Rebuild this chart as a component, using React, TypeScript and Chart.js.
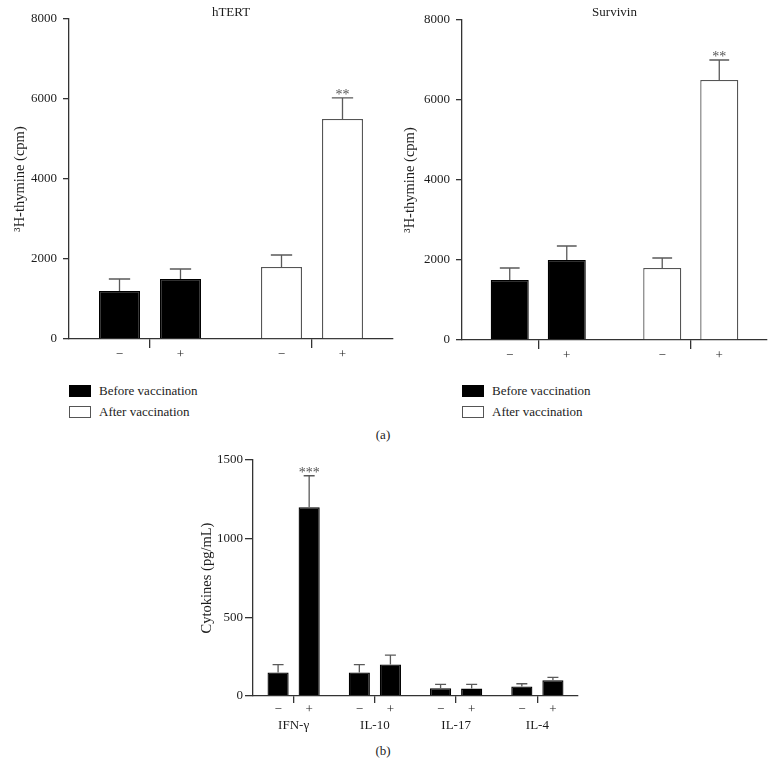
import React, { useEffect, useRef } from 'react';
import { Chart, registerables } from 'chart.js';

Chart.register(...registerables);

const FONT = '"Liberation Serif", "Times New Roman", serif';
const AXIS = '#333333';
const TEXT = '#1c1c1c';

// ---- panel (a) ----
const groupLabels = ['Before vaccination', 'After vaccination'];
const groupFill = ['#000000', '#ffffff'];
const groupBorder = ['#000000', '#555555'];
const stimMinus = '−';
const stimPlus = '+';
const thymineTicks = [0, 2000, 4000, 6000, 8000];

const htertMinus = [1200, 1800];
const htertMinusErr = [300, 300];
const htertPlus = [1500, 5500];
const htertPlusErr = [250, 530];
const htertPlusSig = ['', '**'];

const survMinus = [1500, 1800];
const survMinusErr = [300, 250];
const survPlus = [2000, 6500];
const survPlusErr = [350, 500];
const survPlusSig = ['', '**'];

// ---- panel (b) ----
const cytoLabels = ['IFN-γ', 'IL-10', 'IL-17', 'IL-4'];
const cytoMinus = [150, 150, 50, 60];
const cytoMinusErr = [50, 50, 24, 18];
const cytoPlus = [1200, 200, 47, 100];
const cytoPlusErr = [200, 60, 27, 18];
const cytoPlusSig = ['***', '', '', ''];
const cytoTicks = [0, 500, 1000, 1500];

const barExtras = {
  id: 'barExtras',
  afterDatasetsDraw(chart: any, _args: any, opts: any) {
    const { ctx, chartArea } = chart;
    const yScale = chart.scales.y;
    chart.data.datasets.forEach((ds: any, di: number) => {
      const meta = chart.getDatasetMeta(di);
      meta.data.forEach((bar: any, i: number) => {
        const v = ds.data[i];
        const e = ds.errors ? ds.errors[i] : 0;
        const top = yScale.getPixelForValue(v + e);
        const half = bar.width * 0.26;
        ctx.save();
        ctx.strokeStyle = '#5a5a5a';
        ctx.lineWidth = 1.3;
        ctx.beginPath();
        ctx.moveTo(bar.x, bar.y);
        ctx.lineTo(bar.x, top);
        ctx.moveTo(bar.x - half, top);
        ctx.lineTo(bar.x + half, top);
        ctx.stroke();
        const sig = ds.sig ? ds.sig[i] : '';
        if (sig) {
          ctx.fillStyle = '#555555';
          ctx.font = `14px ${FONT}`;
          ctx.textAlign = 'center';
          ctx.textBaseline = 'alphabetic';
          ctx.fillText(sig, bar.x, top + 1);
        }
        ctx.fillStyle = TEXT;
        ctx.font = `13px ${FONT}`;
        ctx.textAlign = 'center';
        ctx.textBaseline = 'middle';
        ctx.fillText(ds.label, bar.x, chartArea.bottom + opts.stimOffset);
        ctx.restore();
      });
    });
    if (opts.title) {
      ctx.save();
      ctx.fillStyle = TEXT;
      ctx.font = `13px ${FONT}`;
      ctx.textAlign = 'center';
      ctx.textBaseline = 'middle';
      ctx.fillText(opts.title, (chartArea.left + chartArea.right) / 2, opts.titleY);
      ctx.restore();
    }
  },
};

function buildConfig(p: any) {
  const ds = (label: string, data: number[], errors: number[], sig: string[]) => ({
    label,
    data,
    errors,
    sig,
    backgroundColor: p.fill,
    borderColor: p.border,
    borderWidth: 1.3,
    categoryPercentage: p.cat,
    barPercentage: p.bar,
  });
  return {
    type: 'bar',
    data: {
      labels: p.labels,
      datasets: [
        ds(stimMinus, p.minus, p.minusErr, []),
        ds(stimPlus, p.plus, p.plusErr, p.plusSig),
      ],
    },
    options: {
      responsive: false,
      animation: false,
      devicePixelRatio: 1,
      layout: { padding: p.padding },
      plugins: {
        legend: { display: false },
        tooltip: { enabled: false },
        barExtras: { stimOffset: p.stimOffset, title: p.title, titleY: p.titleY },
      },
      scales: {
        x: {
          grid: { offset: false, drawOnChartArea: false, tickLength: p.xTick, color: AXIS, lineWidth: 1.3 },
          border: { color: AXIS, width: 1.3 },
          ticks: { display: p.showX, padding: 15, font: { size: 13, family: FONT }, color: TEXT, maxRotation: 0 },
          afterFit: (s: any) => { s.height = p.xHeight; },
        },
        y: {
          min: 0,
          max: p.yMax,
          grid: { drawOnChartArea: false, tickLength: p.yTick, color: AXIS, lineWidth: 1.3 },
          border: { color: AXIS, width: 1.3 },
          ticks: {
            padding: p.yPad,
            font: { size: 13, family: FONT },
            color: TEXT,
            callback: (v: any) => String(v),
          },
          afterBuildTicks: (s: any) => { s.ticks = p.yTicks.map((v: number) => ({ value: v })); },
          afterFit: (s: any) => { s.width = p.yWidth; },
          title: {
            display: true,
            text: p.yTitle,
            font: { size: 14.5, family: FONT },
            color: TEXT,
            padding: { top: p.titlePad, bottom: 0 },
          },
        },
      },
    },
    plugins: [barExtras],
  };
}

function Panel({ left, top, width, height, params }: any) {
  const ref = useRef<HTMLCanvasElement>(null);
  useEffect(() => {
    const chart = new Chart(ref.current as HTMLCanvasElement, buildConfig(params) as any);
    return () => chart.destroy();
  }, []);
  return (
    <canvas
      ref={ref}
      width={width}
      height={height}
      style={{ position: 'absolute', left, top, width, height }}
    />
  );
}

function Legend({ left, top }: any) {
  return (
    <div style={{ position: 'absolute', left, top, font: `13px ${FONT}`, color: TEXT }}>
      {groupLabels.map((l, i) => (
        <div key={l} style={{ display: 'flex', alignItems: 'center', height: 20.5 }}>
          <span
            style={{
              display: 'inline-block',
              width: 22,
              height: 12,
              boxSizing: 'border-box',
              background: groupFill[i],
              border: `1.3px solid ${groupBorder[i]}`,
              marginRight: 8,
            }}
          />
          <span>{l}</span>
        </div>
      ))}
    </div>
  );
}

const hTERTParams = {
  labels: groupLabels,
  minus: htertMinus, minusErr: htertMinusErr,
  plus: htertPlus, plusErr: htertPlusErr, plusSig: htertPlusSig,
  fill: groupFill, border: groupBorder,
  cat: 0.753, bar: 0.672,
  padding: { top: 19, right: 7, bottom: 0, left: 0 },
  yWidth: 69, xHeight: 33, xTick: 9, yTick: 6, yPad: 6,
  yMax: 8000, yTicks: thymineTicks,
  yTitle: '³H-thymine (cpm)', titlePad: 11,
  showX: false, stimOffset: 16,
  title: 'hTERT', titleY: 13,
};

const survParams = {
  ...hTERTParams,
  minus: survMinus, minusErr: survMinusErr,
  plus: survPlus, plusErr: survPlusErr, plusSig: survPlusSig,
  cat: 0.748, bar: 0.667,
  padding: { top: 20, right: 8, bottom: 0, left: 0 },
  yWidth: 72, xHeight: 32,
  titlePad: 11,
  title: 'Survivin', titleY: 13,
};

const cytoParams = {
  labels: cytoLabels,
  minus: cytoMinus, minusErr: cytoMinusErr,
  plus: cytoPlus, plusErr: cytoPlusErr, plusSig: cytoPlusSig,
  fill: '#000000', border: '#000000',
  cat: 0.765, bar: 0.68,
  padding: { top: 20, right: 22, bottom: 0, left: 0 },
  yWidth: 73, xHeight: 44, xTick: 7, yTick: 8, yPad: 2,
  yMax: 1500, yTicks: cytoTicks,
  yTitle: 'Cytokines (pg/mL)', titlePad: 18,
  showX: true, stimOffset: 14,
  title: '', titleY: 0,
};

export default function App() {
  return (
    <div
      style={{
        position: 'fixed',
        left: 0,
        top: 0,
        width: 775,
        height: 778,
        background: '#ffffff',
        overflow: 'hidden',
      }}
    >
      <Panel left={0} top={0} width={400} height={372} params={hTERTParams} />
      <Panel left={390} top={0} width={385} height={372} params={survParams} />
      <Legend left={69} top={381} />
      <Legend left={462} top={381} />
      <div style={{ position: 'absolute', left: 0, width: 766, top: 427, textAlign: 'center', font: `13px ${FONT}`, color: TEXT }}>(a)</div>
      <Panel left={180} top={440} width={420} height={300} params={cytoParams} />
      <div style={{ position: 'absolute', left: 0, width: 766, top: 743, textAlign: 'center', font: `13px ${FONT}`, color: TEXT }}>(b)</div>
    </div>
  );
}
